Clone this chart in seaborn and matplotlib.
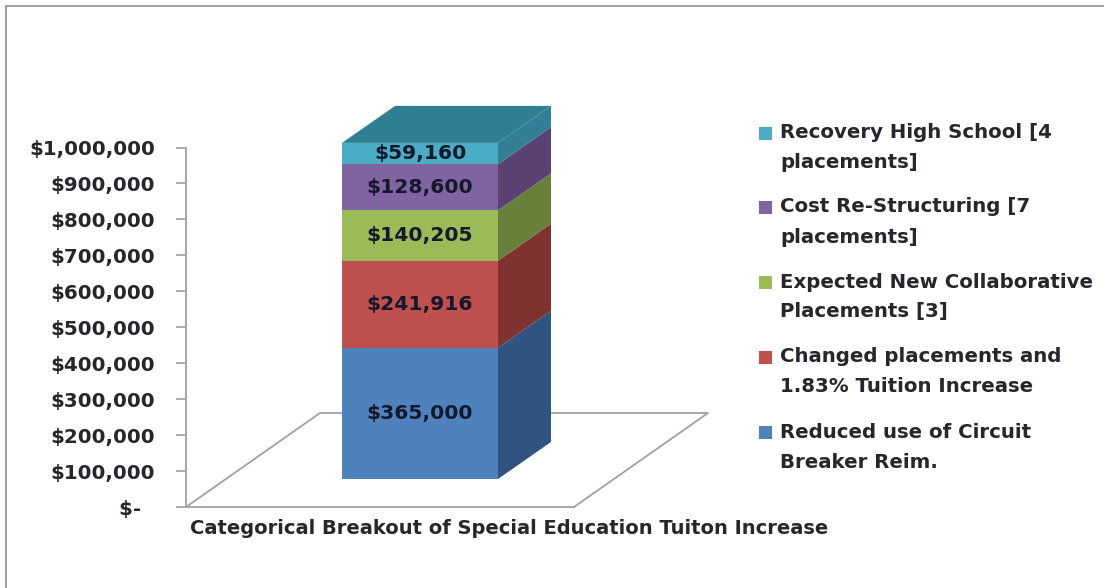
import matplotlib
matplotlib.use("Agg")
import matplotlib.pyplot as plt
import pandas as pd
import seaborn as sns
from matplotlib.lines import Line2D
from matplotlib.patches import Polygon, Rectangle
from matplotlib.transforms import Affine2D

# Stack order runs bottom to top
category = "Categorical Breakout of Special Education Tuiton Increase"
series_names = [
    "Reduced use of Circuit\nBreaker Reim.",
    "Changed placements and\n1.83% Tuition Increase",
    "Expected New Collaborative\nPlacements [3]",
    "Cost Re-Structuring [7\nplacements]",
    "Recovery High School [4\nplacements]",
]
amounts = [365000, 241916, 140205, 128600, 59160]
front_colors = ["#4F81BD", "#C0504D", "#9BBB59", "#8064A2", "#4BACC6"]
side_colors = ["#2F5480", "#7F3230", "#67803A", "#5A4272", "#337F96"]
top_color = "#2F7F93"
y_ticks = list(range(0, 1000001, 100000))

FONT = "DejaVu Sans"
TEXT = "#26262E"
GREY = "#A0A0A0"
W, H = 1104, 588

sns.set_theme(style="white")
plt.rcParams["font.family"] = [FONT]
plt.rcParams["font.weight"] = "bold"
plt.rcParams["axes.labelweight"] = "bold"

fig = plt.figure(figsize=(W / 100, H / 100), dpi=100, facecolor="white")
ax = fig.add_axes([186 / W, (H - 507) / H, 388 / W, 359.5 / H])

df = pd.DataFrame({"category": [category] * len(amounts), "series": series_names, "amount": amounts})
df["base"] = df["amount"].cumsum() - df["amount"]

for _, row in df.iterrows():
    sns.barplot(
        data=df[df["series"] == row["series"]], x="category", y="amount",
        bottom=row["base"], width=0.402, color=front_colors[series_names.index(row["series"])],
        saturation=1, ax=ax, zorder=3, linewidth=0,
    )

ax.set_xlim(-0.5, 0.5)
ax.set_ylim(0, 1000000)

# Oblique projection: scale factors from axis units to screen depth
x_per_px = 1 / 388
y_per_px = 1000000 / 359.5
floor_dx, floor_dy = 134 * x_per_px, 94 * y_per_px
bar_dx, bar_dy = 53 * x_per_px, 37 * y_per_px
shift_x, shift_y = 40 * x_per_px, 28 * y_per_px
front = Affine2D().translate(shift_x, shift_y) + ax.transData

# Floor outline behind the column
floor_x = [-0.5, -0.5 + floor_dx, 0.5 + floor_dx, 0.5]
floor_y = [0, floor_dy, floor_dy, 0]
ax.add_line(Line2D(floor_x, floor_y, color=GREY, lw=1.3, clip_on=False, zorder=1))

# Side faces, top face and value labels follow the seaborn bars
bars = list(ax.patches)
for bar, side, value in zip(bars, side_colors, amounts):
    bar.set_transform(front)
    bar.set_clip_on(False)
    x0, x1 = bar.get_x(), bar.get_x() + bar.get_width()
    y0, y1 = bar.get_y(), bar.get_y() + bar.get_height()
    ax.add_patch(Polygon(
        [(x1, y0), (x1 + bar_dx, y0 + bar_dy), (x1 + bar_dx, y1 + bar_dy), (x1, y1)],
        closed=True, facecolor=side, edgecolor="none", transform=front, clip_on=False, zorder=2,
    ))
    ax.text((x0 + x1) / 2, (y0 + y1) / 2, f"${value:,}", transform=front, ha="center",
            va="center", fontsize=14.6, color="#14182C", zorder=5, clip_on=False)

ax.add_patch(Polygon(
    [(x0, y1), (x1, y1), (x1 + bar_dx, y1 + bar_dy), (x0 + bar_dx, y1 + bar_dy)],
    closed=True, facecolor=top_color, edgecolor="none", transform=front, clip_on=False, zorder=2,
))

# Axes styling
sns.despine(ax=ax, top=True, right=True)
for name in ("left", "bottom"):
    ax.spines[name].set_color(GREY)
    ax.spines[name].set_linewidth(1.3)
ax.set_yticks(y_ticks)
ax.set_yticklabels(
    [f"${v:,}" if v else "$-\u00a0\u00a0" for v in y_ticks],
    fontsize=14.3, color=TEXT,
)
ax.tick_params(axis="y", left=True, length=7.2, width=1.2, color=GREY, pad=15)
ax.set_xticks([])
ax.set_ylabel("")
ax.set_xlabel(category, fontsize=14, color=TEXT, ha="left")
ax.xaxis.set_label_coords(4 / 388, -21 / 359.5, transform=ax.transAxes)
ax.xaxis.label.set_verticalalignment("center")

# Legend entries, newest series first
legend_y = [133, 207, 282, 357, 432]
for name, color, y in zip(series_names[::-1], front_colors[::-1], legend_y):
    fig.add_artist(Rectangle((759 / W, 1 - (y + 6.5) / H), 13 / W, 13 / H, transform=fig.transFigure,
                             facecolor=color, edgecolor="none"))
    first, second = name.split("\n")
    fig.text(780 / W, 1 - y / H, first, ha="left", va="center", fontsize=14.2, color=TEXT)
    fig.text(780 / W, 1 - (y + 30) / H, second, ha="left", va="center", fontsize=14.2, color=TEXT)

# Frame lines along the top and left edges
fig.add_artist(Line2D([6 / W, 1], [1 - 6 / H, 1 - 6 / H], color=GREY, lw=1.4, transform=fig.transFigure))
fig.add_artist(Line2D([6 / W, 6 / W], [0, 1 - 6 / H], color=GREY, lw=1.4, transform=fig.transFigure))

fig.savefig("out.png", dpi=100)
